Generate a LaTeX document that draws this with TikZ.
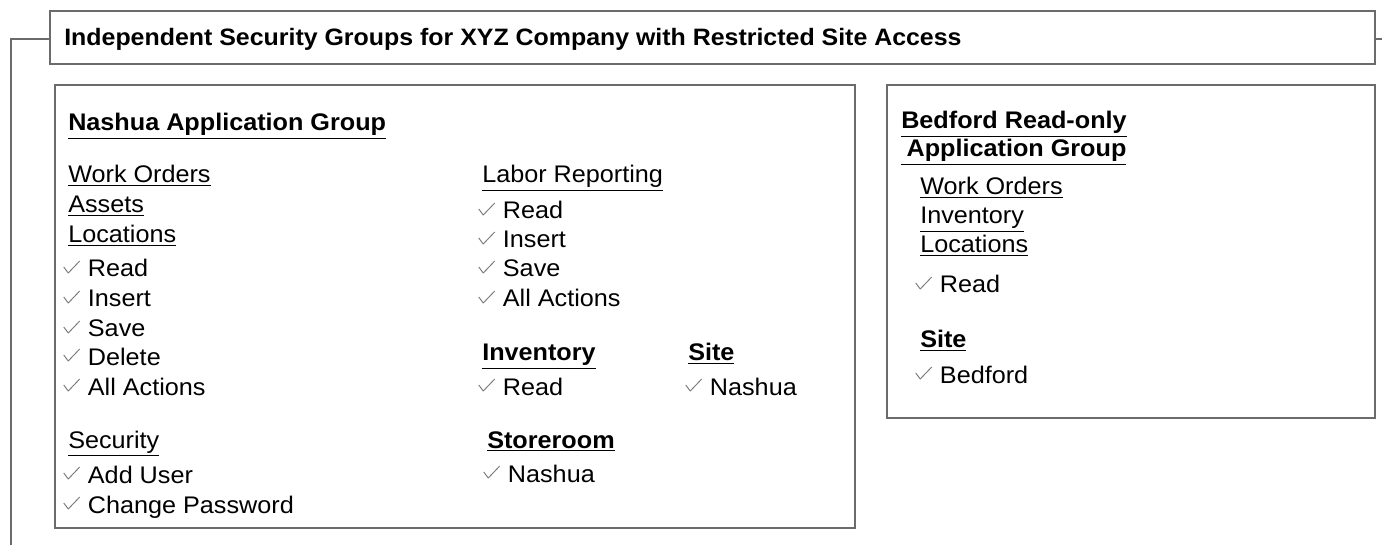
\documentclass[tikz,border=0pt]{standalone}
\usepackage{fontspec}
\usepackage{xcolor}
\usepackage{tikz}
\usetikzlibrary{positioning}
\setmainfont{Liberation Sans}[FakeStretch=1.05]
\definecolor{sgline}{HTML}{6B6B6B}
\definecolor{sgtick}{HTML}{7A7A7A}
\newcommand{\sgfont}{\fontsize{18}{21}\selectfont}
% thin grey tick, sized in pixels above the baseline
\newcommand{\chk}{\tikz[baseline=0pt,x=0.75pt,y=0.75pt]
  \draw[sgtick,line width=0.7pt,line join=round] (0,10) -- (4.5,4) -- (16,16);}
\newcommand{\ck}[1]{\makebox[18.5pt][l]{\chk}#1}
\tikzset{
  grp/.style={draw=sgline,line width=0.8pt,inner sep=0pt},
  lbl/.style={anchor=base west,inner sep=0pt,font=\sgfont},
  hd/.style={lbl,font=\sgfont\bfseries},
  wire/.style={draw=sgline,line width=0.8pt},
}
\begin{document}
\begin{tikzpicture}[x=0.75pt,y=-0.75pt]
\useasboundingbox (0,0) rectangle (1382,545);
% frames
\node[grp,minimum width=993.75pt,minimum height=39.75pt] (title) at (712.5,37.5) {};
\node[grp,minimum width=600pt,minimum height=332.25pt] (nashua) at (455,306.5) {};
\node[grp,minimum width=366pt,minimum height=249.75pt] (bedford) at (1131,251.5) {};
\node[hd,font=\fontsize{17.8}{20}\selectfont\bfseries] (ttl) at (64,46) {Independent Security Groups for XYZ Company with Restricted Site Access};
\coordinate (drop) at (11,545);
\coordinate (stub) at (1382,39);
\draw[wire] (title.west) ++(0,1.5) -| (drop);
\draw[wire] (title.east) ++(0,1.5) -- (stub);

% Nashua, left column
\node[hd] (nhead) at (68,131) {\underline{Nashua Application Group}};
\node[lbl] (nwo) at (68,183) {\underline{Work Orders}};
\node[lbl] (nas) at (68,213) {\underline{Assets}};
\node[lbl] (nloc) at (68,243) {\underline{Locations}};
\node[lbl] (nr) at (63,277) {\ck{Read}};
\node[lbl] (ni) at (63,307) {\ck{Insert}};
\node[lbl] (ns) at (63,337) {\ck{Save}};
\node[lbl] (nd) at (63,365) {\ck{Delete}};
\node[lbl] (na) at (63,395) {\ck{All Actions}};
\node[lbl] (nsec) at (68,448) {\underline{Security}};
\node[lbl] (nadd) at (63,483) {\ck{Add User}};
\node[lbl] (npw) at (63,513) {\ck{Change Password}};

% Nashua, right column
\node[lbl] (lab) at (482,183) {\underline{Labor Reporting}};
\node[lbl] (labr) at (478,219) {\ck{Read}};
\node[lbl] (labi) at (478,248) {\ck{Insert}};
\node[lbl] (labs) at (478,277) {\ck{Save}};
\node[lbl] (laba) at (478,307) {\ck{All Actions}};
\node[hd] (inv) at (482,361) {\underline{Inventory}};
\node[lbl] (invr) at (478,395) {\ck{Read}};
\node[hd] (nsite) at (688,361) {\underline{Site}};
\node[lbl] (nsiten) at (685,395) {\ck{Nashua}};
\node[hd] (store) at (487,448) {\underline{Storeroom}};
\node[lbl] (storen) at (483,482) {\ck{Nashua}};

% Bedford
\node[hd] (bhead) at (901,129) {\underline{Bedford Read-only}};
\node[hd] (bhead2) at (901,157) {\underline{\hspace{4pt}Application Group}};
\node[lbl] (bwo) at (920,195) {\underline{Work Orders}};
\node[lbl] (binv) at (920,224) {\underline{Inventory}};
\node[lbl] (bloc) at (920,253) {\underline{Locations}};
\node[lbl] (br) at (915,293) {\ck{Read}};
\node[hd] (bsite) at (920,348) {\underline{Site}};
\node[lbl] (bsiteb) at (915,383) {\ck{Bedford}};
\end{tikzpicture}
\end{document}
